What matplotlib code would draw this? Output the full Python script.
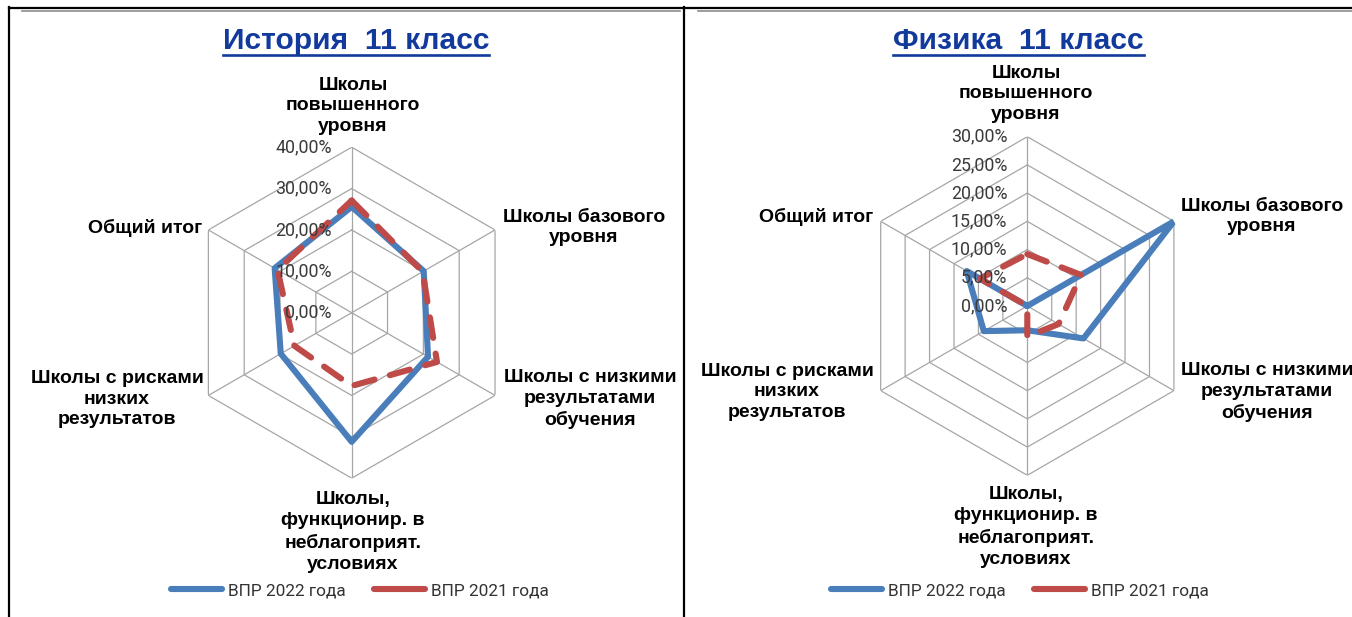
import numpy as np
import matplotlib
matplotlib.use("Agg")
from matplotlib import pyplot as plt
from matplotlib.lines import Line2D

# categories (clockwise from top)
categories = ["Школы\nповышенного\nуровня",
              "Школы базового\nуровня",
              "Школы с низкими\nрезультатами\nобучения",
              "Школы,\nфункционир. в\nнеблагоприят.\nусловиях",
              "Школы с рисками\nнизких\nрезультатов",
              "Общий итог"]
series_names = ["ВПР 2022 года", "ВПР 2021 года"]

# История 11 класс, %
hist_2022 = [25.6, 20.1, 21.3, 31.2, 19.8, 21.5]
hist_2021 = [27.1, 19.8, 23.8, 17.7, 16.0, 20.7]
hist_ticks = [0, 10, 20, 30, 40]

# Физика 11 класс, %
phys_2022 = [0.0, 30.0, 11.5, 4.3, 8.9, 12.4]
phys_2021 = [9.2, 11.0, 6.4, 5.4, 0.0, 9.7]
phys_ticks = [0, 5, 10, 15, 20, 25, 30]

W, H = 1352, 617
BLUE = "#4A7EBB"
RED = "#BE4B48"
TITLE_C = "#123A9C"
BOLD = "Liberation Sans"
REG = "Roboto"
LW = 4.4

fig = plt.figure(figsize=(W / 100, H / 100), dpi=100)


def fx(x):
    return x / W


def fy(y):
    return 1 - y / H


def radar(cx, cy, R, ticks, v22, v21):
    ax = fig.add_axes([fx(cx - R), fy(cy + R), 2 * R / W, 2 * R / H], projection="polar")
    ax.set_theta_offset(np.pi / 2)
    ax.set_theta_direction(-1)
    ax.set_ylim(0, ticks[-1])
    ax.grid(False)
    ax.set_xticks([])
    ax.set_yticks([])
    ax.spines["polar"].set_visible(False)
    ax.patch.set_alpha(0)
    ang = np.linspace(0, 2 * np.pi, len(categories), endpoint=False)
    ang_c = np.append(ang, ang[0])
    for t in ticks[1:]:
        ax.plot(ang_c, [t] * len(ang_c), color="#A6A6A6", lw=0.9, zorder=1)
    for a in ang:
        ax.plot([a, a], [0, ticks[-1]], color="#A6A6A6", lw=0.9, zorder=1)
    ax.plot(ang_c, np.append(v22, v22[0]), color=BLUE, lw=LW,
            solid_joinstyle="round", solid_capstyle="round", zorder=3)
    ax.plot(ang_c, np.append(v21, v21[0]), color=RED, lw=LW,
            dashes=(3.4, 2.6), dash_capstyle="round", dash_joinstyle="round", zorder=4)
    for t in ticks:
        lab = ("%.2f%%" % t).replace(".", ",")
        ax.annotate(lab, xy=(0, t), xytext=(-20, 0), textcoords="offset pixels",
                    ha="right", va="center", fontsize=12.8, family=REG,
                    color="#3A3A3A", zorder=5, annotation_clip=False)
    return ax


radar(351.7, 312.7, 165.5, hist_ticks, hist_2022, hist_2021)
radar(1027.3, 306, 169.3, phys_ticks, phys_2022, phys_2021)

# category labels (pixel layout)
hist_lab_pos = [(353, 106), (584, 227.5), (590, 399), (353, 532), (117, 399), (145, 228)]
phys_lab_pos = [(1026, 94), (1262, 216.5), (1267, 392), (1026, 527), (787, 392), (816, 217)]
for pos_list in (hist_lab_pos, phys_lab_pos):
    for lab, (x, y) in zip(categories, pos_list):
        fig.text(fx(x), fy(y), lab, ha="center", va="center", multialignment="center",
                 fontsize=14.0, fontweight="bold", family=BOLD, color="black",
                 linespacing=1.3)

# titles
titles = [fig.text(fx(356), fy(49), "История  11 класс", ha="center", va="baseline",
                   fontsize=21.6, fontweight="bold", family=BOLD, color=TITLE_C),
          fig.text(fx(1018.5), fy(49), "Физика  11 класс", ha="center", va="baseline",
                   fontsize=21.6, fontweight="bold", family=BOLD, color=TITLE_C)]
fig.canvas.draw()
rend = fig.canvas.get_renderer()
for t in titles:
    bb = t.get_window_extent(rend)
    fig.add_artist(Line2D([bb.x0 / W, bb.x1 / W], [fy(55), fy(55)],
                          transform=fig.transFigure, color=TITLE_C, lw=1.9))

# legends
for lx in (360, 1020):
    handles = [Line2D([], [], color=BLUE, lw=LW, solid_capstyle="round"),
               Line2D([], [], color=RED, lw=LW, solid_capstyle="round")]
    fig.legend(handles, series_names, loc="center", bbox_to_anchor=(fx(lx), fy(591)),
               ncol=2, frameon=False, handlelength=3.0, handletextpad=0.35,
               columnspacing=1.6, prop={"family": REG, "size": 12.4},
               labelcolor="#333333")

# table borders
def hline(x0, x1, y, c, lw):
    fig.add_artist(Line2D([fx(x0), fx(x1)], [fy(y), fy(y)], transform=fig.transFigure,
                          color=c, lw=lw))


def vline(x, y0, y1, c, lw):
    fig.add_artist(Line2D([fx(x), fx(x)], [fy(y0), fy(y1)], transform=fig.transFigure,
                          color=c, lw=lw))


hline(9, W, 8, "black", 1.6)
hline(22, 680, 11, "#8C8C8C", 1.2)
hline(698, W, 11, "#8C8C8C", 1.2)
vline(9, 7, H, "black", 1.6)
vline(684, 7, H, "black", 1.6)

fig.savefig("out.png", dpi=100)
